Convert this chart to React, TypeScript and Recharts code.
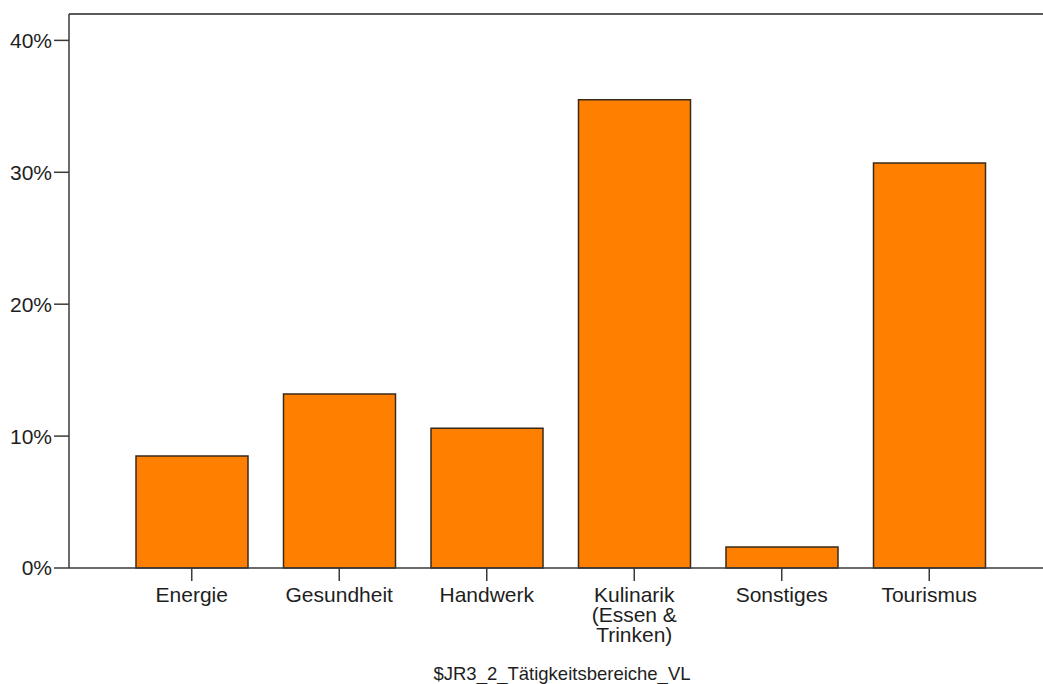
import React from 'react';
import { BarChart, Bar, XAxis, YAxis, ReferenceLine } from 'recharts';

const categories = ['Energie', 'Gesundheit', 'Handwerk', 'Kulinarik (Essen & Trinken)', 'Sonstiges', 'Tourismus'];
const shares = [8.5, 13.2, 10.6, 35.5, 1.6, 30.7];
const yTicks = [0, 10, 20, 30, 40];
const axisTitle = '$JR3_2_Tätigkeitsbereiche_VL';

const data = categories.map((name, i) => ({ name, value: shares[i] }));

const FONT = '"Liberation Sans", Arial, sans-serif';
const AXIS = '#3a3a3a';

// greedy word wrap, roughly 9 characters per line like the SPSS output
const wrap = (label: string, maxChars = 9) => {
  const lines: string[] = [];
  let cur = '';
  label.split(' ').forEach((w) => {
    if (cur && (cur + ' ' + w).length > maxChars) {
      lines.push(cur);
      cur = w;
    } else {
      cur = cur ? cur + ' ' + w : w;
    }
  });
  if (cur) lines.push(cur);
  return lines;
};

const CategoryTick = ({ x, y, payload }: any) => (
  <text x={x} y={y} textAnchor="middle" fontSize={21} fontFamily={FONT} fill="#1e1e1e">
    {wrap(payload.value).map((line, i) => (
      <tspan key={i} x={x} dy={i === 0 ? 15 : 20}>
        {line}
      </tspan>
    ))}
  </text>
);

export default function App() {
  return (
    <div style={{ position: 'absolute', left: 0, top: 0, background: '#fff' }}>
      <BarChart
        width={1043}
        height={684}
        data={data}
        margin={{ top: 14, right: 0, bottom: 0, left: 0 }}
        barCategoryGap={18}
      >
        <XAxis
          dataKey="name"
          height={116}
          interval={0}
          padding={{ left: 49, right: 40 }}
          stroke={AXIS}
          strokeWidth={1.5}
          tickSize={13}
          tickMargin={6}
          tick={<CategoryTick />}
          label={{
            value: axisTitle,
            position: 'insideBottom',
            offset: 4,
            dx: 6,
            fontSize: 18.5,
            fontFamily: FONT,
            fill: '#1e1e1e',
          }}
        />
        <YAxis
          width={69}
          domain={[0, 42]}
          ticks={yTicks}
          tickFormatter={(v) => `${v}%`}
          stroke={AXIS}
          strokeWidth={1.5}
          tickSize={15}
          tickMargin={2}
          tick={{ fontSize: 21, fontFamily: FONT, fill: '#1e1e1e' }}
        />
        <ReferenceLine y={42} stroke="#5a5a5a" strokeWidth={2} />
        <Bar dataKey="value" fill="#ff8000" stroke="#3a2a1a" strokeWidth={1.5} isAnimationActive={false} />
      </BarChart>
    </div>
  );
}
